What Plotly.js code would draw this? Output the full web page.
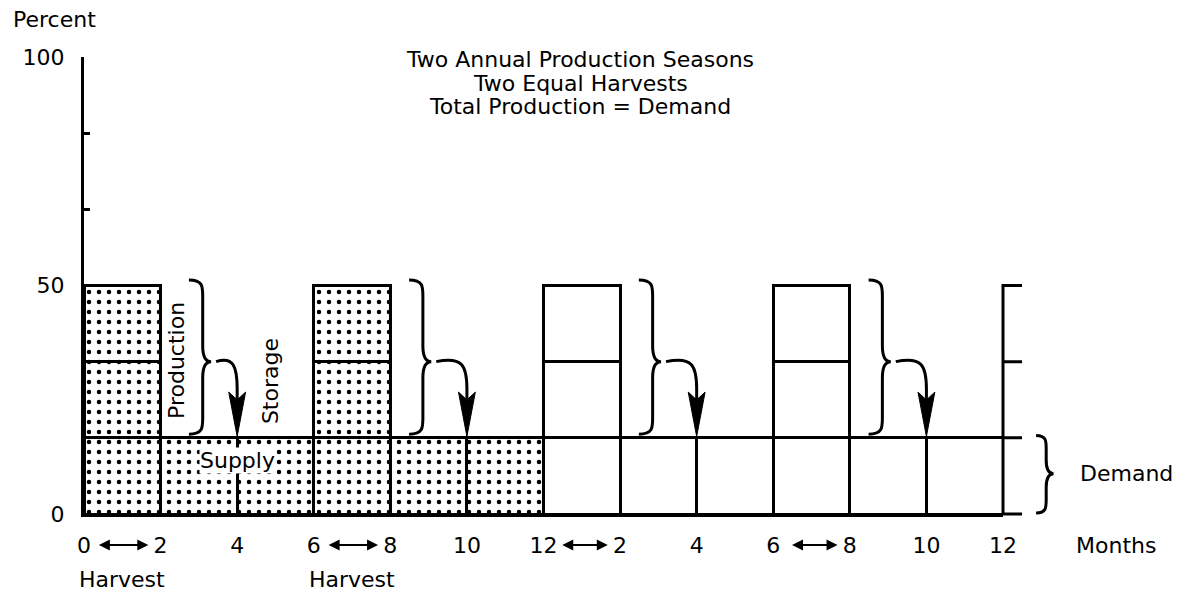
<!DOCTYPE html>
<html>
<head>
<meta charset="utf-8">
<script src="https://cdn.plot.ly/plotly-3.0.1.min.js"></script>
<style>
  html, body { margin: 0; padding: 0; background: #fff; }
  #chart { width: 1181px; height: 597px; }
</style>
</head>
<body>
<div id="chart"></div>
<script>
// two harvests a year, each 50% of annual demand, drawn as three thirds
const harvestMonth = [1, 7, 13, 19];
const harvestThird = [16.67, 16.67, 16.67, 16.67];
const harvestFill = ['.', '.', '', ''];

// monthly supply drawn from storage between harvests
const supplyMonth = [3, 5, 9, 11, 15, 17, 21, 23];
const supplyShare = [16.67, 16.67, 16.67, 16.67, 16.67, 16.67, 16.67, 16.67];
const supplyFill = ['.', '.', '.', '.', '', '', '', ''];

const monthTicks = [0, 2, 4, 6, 8, 10, 12, 14, 16, 18, 20, 22, 24];
const monthText = ['0', '2', '4', '6', '8', '10', '12', '2', '4', '6', '8', '10', '12'];
const harvestStart = [0, 6, 12, 18];

const percentTicks = [0, 16.67, 33.33, 50, 66.67, 83.33, 100];
const percentText = ['0', '', '', '50', '', '', '100'];

const FONT = 'DejaVu Sans';
const fs = 22;

function pattern(shapes) {
  return {shape: shapes, fgcolor: 'black', bgcolor: 'white', size: 10, solidity: 0.16};
}

const traces = [];
['bottom', 'middle', 'top'].forEach(function (nm) {
  traces.push({
    type: 'bar', name: nm, x: harvestMonth, y: harvestThird, width: 2,
    marker: {color: 'white', line: {color: 'black', width: 3}, pattern: pattern(harvestFill)},
    hoverinfo: 'skip'
  });
});
traces.push({
  type: 'bar', name: 'supply', x: supplyMonth, y: supplyShare, width: 2,
  marker: {color: 'white', line: {color: 'black', width: 3}, pattern: pattern(supplyFill)},
  hoverinfo: 'skip'
});

// curly brace path; y grows upward
function brace(e, s, p, top, mid, bot, ry) {
  return 'M' + e + ',' + top +
    ' C' + s + ',' + top + ' ' + s + ',' + (top - ry * 0.4) + ' ' + s + ',' + (top - ry) +
    ' L' + s + ',' + (mid + ry) +
    ' C' + s + ',' + (mid + ry * 0.3) + ' ' + (s + (p - s) * 0.3) + ',' + mid + ' ' + p + ',' + mid +
    ' C' + (s + (p - s) * 0.3) + ',' + mid + ' ' + s + ',' + (mid - ry * 0.3) + ' ' + s + ',' + (mid - ry) +
    ' L' + s + ',' + (bot + ry) +
    ' C' + s + ',' + (bot + ry * 0.4) + ' ' + s + ',' + bot + ' ' + e + ',' + bot;
}

const level = harvestThird[0];
const shapes = [];
harvestMonth.forEach(function (m, i) {
  const s = m + 1 + (i === 0 ? 1.1 : 0.85);
  const t = m + 3;  // first supply divider after harvest
  shapes.push({type: 'path', xref: 'x', yref: 'y', line: {color: 'black', width: 3},
    path: brace(s - 0.36, s, s + 0.22, 3 * level + 1.2, 2 * level, level + 0.8, 3.5)});
  shapes.push({type: 'path', xref: 'x', yref: 'y', line: {color: 'black', width: 3},
    path: 'M' + (s + 0.35) + ',' + (2 * level) + ' C' + (t - 0.1) + ',' + (2 * level + 1.2) + ' ' + t + ',' + (2 * level - 1) + ' ' + t + ',' + (2 * level - 6) + ' L' + t + ',' + (level + 6)});
  shapes.push({type: 'path', xref: 'x', yref: 'y', line: {color: 'black', width: 1}, fillcolor: 'black',
    path: 'M' + (t - 0.22) + ',' + (level + 10) + ' L' + t + ',' + (level + 8.3) + ' L' + (t + 0.22) + ',' + (level + 10) + ' L' + t + ',' + (level + 0.3) + ' Z'});
});

// right-hand scale at month 24 and demand brace (paper coords)
const x24 = 1, stub = 0.0207;
shapes.push({type: 'path', xref: 'paper', yref: 'paper', line: {color: 'black', width: 3},
  path: 'M' + (x24 + stub) + ',0.5 L' + x24 + ',0.5 L' + x24 + ',0 L' + (x24 + stub) + ',0' +
    ' M' + x24 + ',0.3333 L' + (x24 + stub) + ',0.3333 M' + x24 + ',0.1667 L' + (x24 + stub) + ',0.1667'});
shapes.push({type: 'path', xref: 'paper', yref: 'paper', line: {color: 'black', width: 3},
  path: brace(1.036, 1.047, 1.055, 0.172, 0.088, 0.002, 0.03)});

function label(text, xref, x, y, extra) {
  return Object.assign({text: text, xref: xref, yref: 'paper', x: x, y: y,
    xanchor: 'center', yanchor: 'middle', showarrow: false, font: {size: fs}}, extra || {});
}

const annotations = [
  label('Percent', 'paper', -0.032, 1.081),
  label('Two Annual Production Seasons', 'paper', 0.54, 0.994),
  label('Two Equal Harvests', 'paper', 0.54, 0.943),
  label('Total Production = Demand', 'paper', 0.54, 0.892),
  label('Production', 'x', 2.43, 0.335, {textangle: -90}),
  label('Storage', 'x', 4.86, 0.291, {textangle: -90}),
  label('Supply', 'x', 4, 0.118, {bgcolor: 'white', borderpad: 0}),
  label('Demand', 'paper', 1.082, 0.088, {xanchor: 'left'}),
  label('Months', 'paper', 1.077, -0.068, {xanchor: 'left'}),
  label('Harvest', 'x', harvestMonth[0], -0.144),
  label('Harvest', 'x', harvestMonth[1], -0.144)
];
harvestStart.forEach(function (t) {
  annotations.push({text: '', xref: 'x', yref: 'paper', x: t + 1.68, y: -0.068,
    axref: 'x', ayref: 'pixel', ax: t + (t >= 10 ? 0.45 : 0.35), ay: 0,
    showarrow: true, arrowside: 'end+start', arrowhead: 2, startarrowhead: 2,
    arrowsize: 1.1, startarrowsize: 1.1, arrowwidth: 2, standoff: 0, startstandoff: 0, arrowcolor: 'black'});
});

const layout = {
  width: 1181, height: 597,
  margin: {l: 84, r: 178, t: 57, b: 83},
  paper_bgcolor: 'white', plot_bgcolor: 'white',
  font: {family: FONT, size: fs, color: 'black'},
  barmode: 'stack', bargap: 0, showlegend: false,
  xaxis: {range: [0, 24], tickvals: monthTicks, ticktext: monthText, ticks: '',
    showline: true, linewidth: 3, linecolor: 'black', showgrid: false, zeroline: false,
    ticklabelstandoff: 10, fixedrange: true},
  yaxis: {range: [0, 100], tickvals: percentTicks, ticktext: percentText, ticks: 'inside',
    ticklen: 6, tickwidth: 3, tickcolor: 'black', showline: true, linewidth: 3, linecolor: 'black',
    showgrid: false, zeroline: false, ticklabelstandoff: 12, fixedrange: true},
  shapes: shapes,
  annotations: annotations
};

Plotly.newPlot('chart', traces, layout, {displayModeBar: false, staticPlot: true});
</script>
</body>
</html>
